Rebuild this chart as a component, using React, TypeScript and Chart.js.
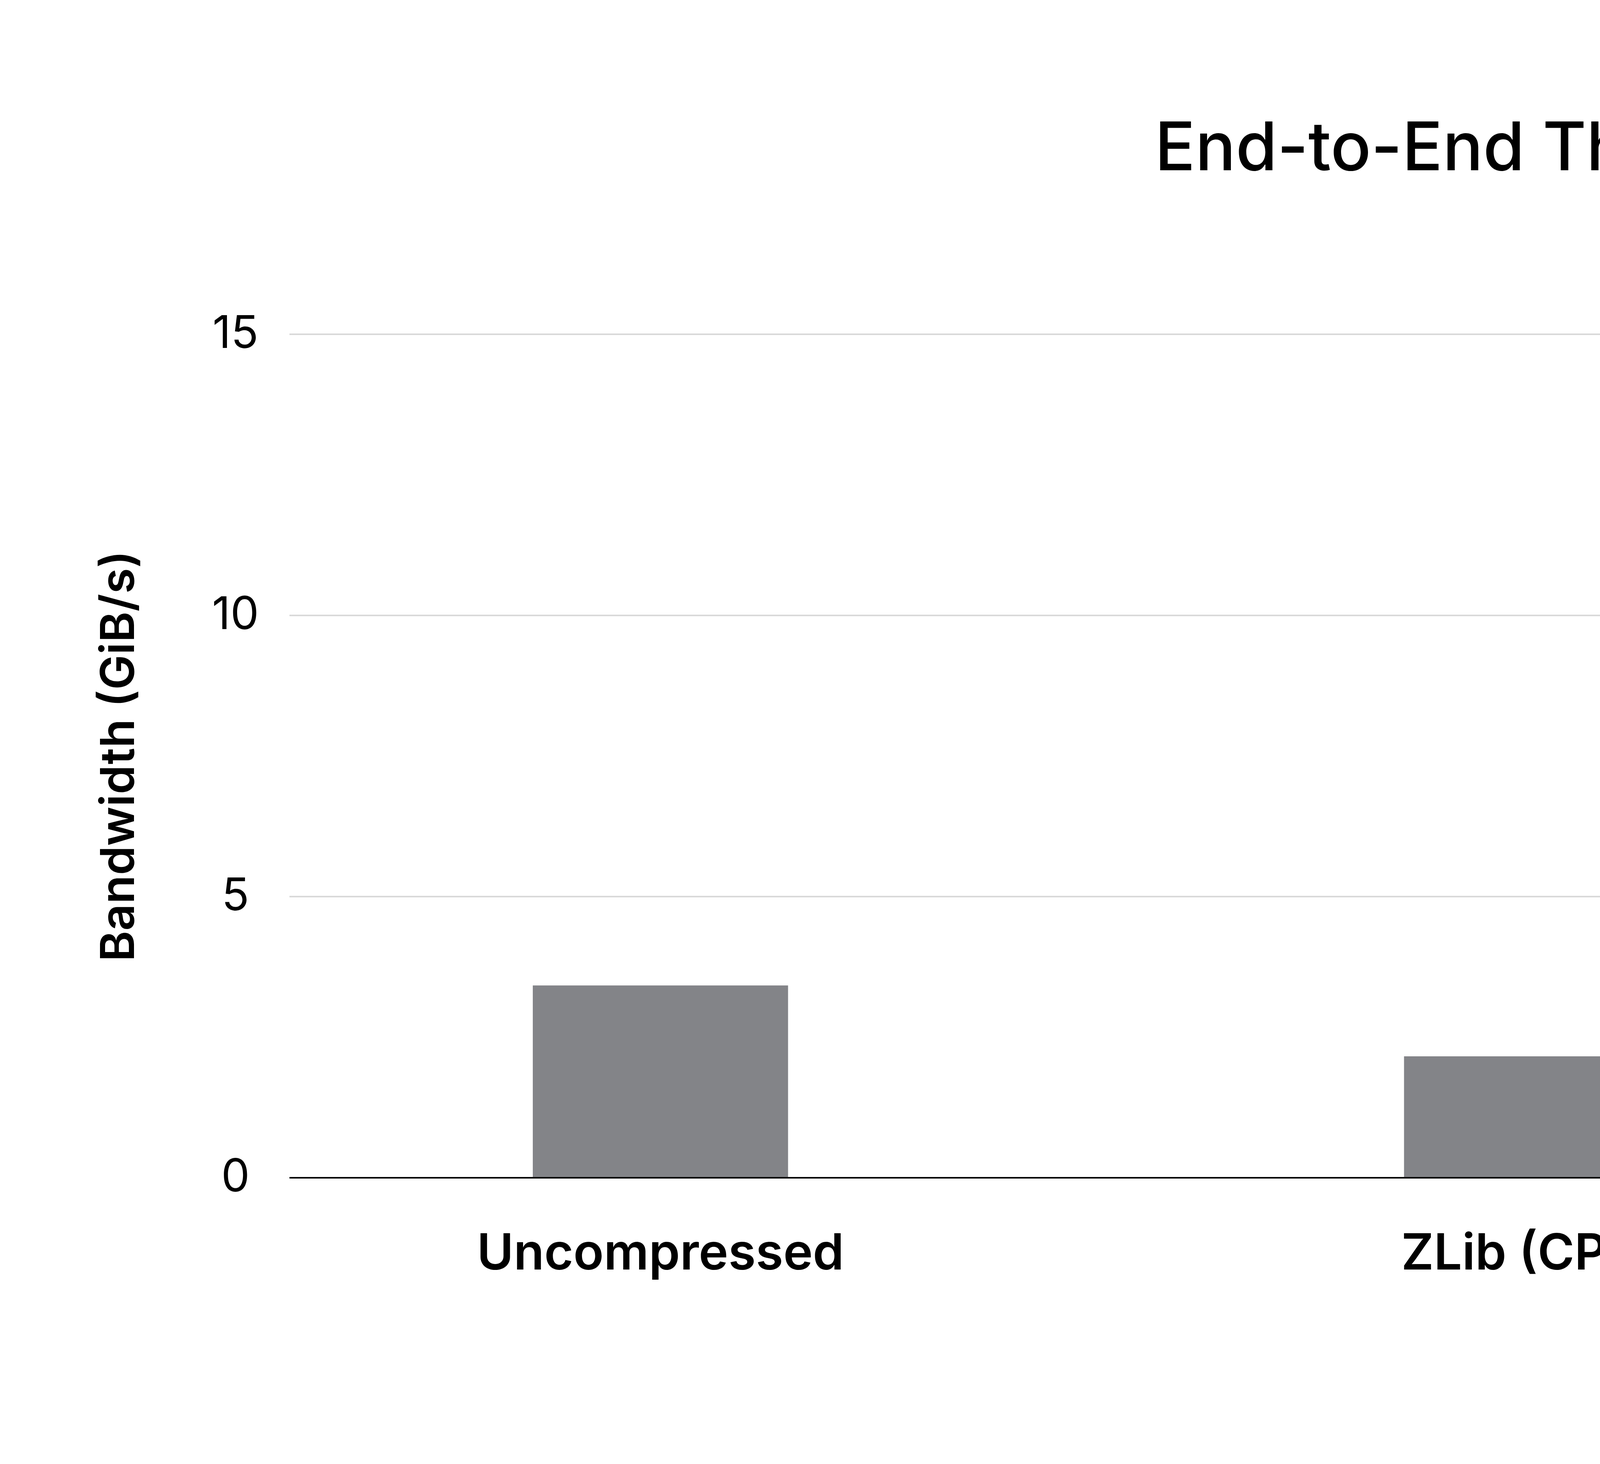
import { useEffect, useRef } from "react"
import { Chart, registerables } from "chart.js"

Chart.register(...registerables)

// values
const categories = ["Uncompressed", "ZLib (CPU)", "GPU GDeflate"]
const categoryIndex = [0, 1, 2]
const throughput = [3.42, 2.16, 11.56]
const barColors = ["#838488", "#838488", "#76b900"]
const yTicks = [0, 5, 10, 15]

const WIDTH = 7517
const HEIGHT = 3749
const FONT = "Inter, 'Noto Sans', sans-serif"

export default function App() {
    const canvasRef = useRef<HTMLCanvasElement | null>(null)
    const chartRef = useRef<Chart | null>(null)

    useEffect(() => {
        document.body.style.margin = "0"
        document.body.style.overflow = "hidden"
        if (!canvasRef.current) return
        if (chartRef.current) chartRef.current.destroy()

        chartRef.current = new Chart(canvasRef.current, {
            type: "bar",
            data: {
                datasets: [
                    {
                        label: "Bandwidth",
                        data: categoryIndex.map((x, i) => ({ x, y: throughput[i] })),
                        backgroundColor: barColors,
                        borderWidth: 0,
                        barPercentage: 0.293,
                        categoryPercentage: 1,
                    },
                ],
            },
            options: {
                responsive: false,
                animation: false,
                devicePixelRatio: 1,
                layout: {
                    padding: { left: 0, right: 388, top: 0, bottom: 0 },
                },
                plugins: {
                    legend: { display: false },
                    tooltip: { enabled: false },
                    title: {
                        display: true,
                        text: "End-to-End Throughput",
                        fullSize: false, // centre over the plot area, not the canvas
                        color: "#000",
                        font: { family: FONT, size: 172, weight: "500", lineHeight: 1.2 },
                        padding: { top: 281, bottom: 369 },
                    },
                },
                scales: {
                    // linear index axis so the category spacing can be a bit wider than plot/3
                    x: {
                        type: "linear",
                        bounds: "data",
                        offset: false,
                        min: -0.4258,
                        max: 2.4383,
                        grid: { display: false, offset: false },
                        border: { display: false },
                        afterFit: (scale) => {
                            scale.height = HEIGHT - 3016
                        },
                        afterBuildTicks: (scale) => {
                            scale.ticks = categoryIndex.map((value) => ({ value }))
                        },
                        ticks: {
                            autoSkip: false,
                            maxRotation: 0,
                            minRotation: 0,
                            padding: 112,
                            color: "#000",
                            font: { family: FONT, size: 128, weight: "600", lineHeight: 1.2 },
                            callback: (value) => categories[Math.round(Number(value))] ?? "",
                        },
                    },
                    y: {
                        min: 0,
                        max: 15,
                        afterFit: (scale) => {
                            scale.width = 741
                        },
                        afterBuildTicks: (scale) => {
                            scale.ticks = yTicks.map((value) => ({ value }))
                        },
                        border: { display: false },
                        grid: {
                            drawTicks: false,
                            lineWidth: 4,
                            color: (ctx) => (ctx.tick && ctx.tick.value === 0 ? "#000" : "#d9d9d9"),
                        },
                        ticks: {
                            crossAlign: "center",
                            padding: 78,
                            color: "#000",
                            font: { family: FONT, size: 116, weight: "400", lineHeight: 1.2 },
                        },
                        title: {
                            display: true,
                            text: "Bandwidth (GiB/s)",
                            color: "#000",
                            font: { family: FONT, size: 120, weight: "600", lineHeight: 1.2 },
                            padding: { top: 235, bottom: 0 },
                        },
                    },
                },
            },
        })

        return () => {
            if (chartRef.current) {
                chartRef.current.destroy()
                chartRef.current = null
            }
        }
    }, [])

    return (
        <div style={{ width: WIDTH, height: HEIGHT, background: "#fff" }}>
            <canvas ref={canvasRef} width={WIDTH} height={HEIGHT} />
        </div>
    )
}
